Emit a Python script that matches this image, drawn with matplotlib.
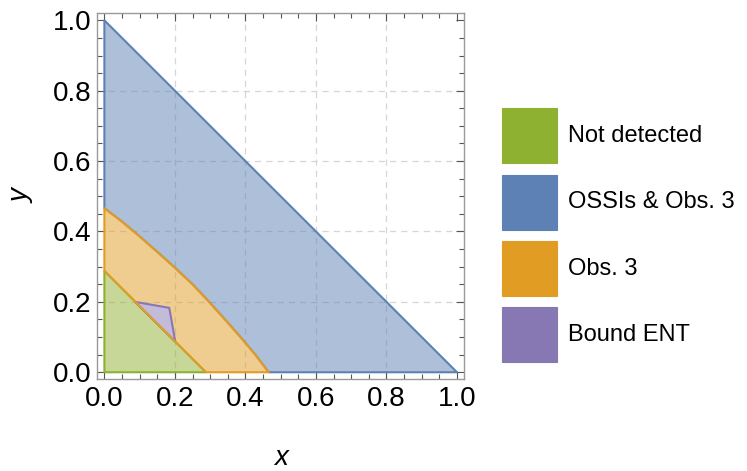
import matplotlib
matplotlib.use("Agg")
import matplotlib.pyplot as plt
from matplotlib.patches import Polygon, Patch, Rectangle
from matplotlib.legend_handler import HandlerPatch
from matplotlib.ticker import MultipleLocator, FormatStrFormatter
from matplotlib.colors import to_rgb

plt.rcParams['font.family'] = ['Liberation Sans', 'DejaVu Sans']

# ---- data ----
labels = ["Not detected", "OSSIs & Obs. 3", "Obs. 3", "Bound ENT"]
colors = ["#8FB131", "#5E81B5", "#E19C24", "#8778B3"]

# outer boundary of the whole region: x + y <= 1
outer_x = [0.0, 1.0]
outer_y = [1.0, 0.0]
# curved boundary between "OSSIs & Obs. 3" and "Obs. 3"
curve_x = [0.0, 0.05, 0.10, 0.15, 0.20, 0.25, 0.297, 0.342, 0.386, 0.428, 0.466]
curve_y = [0.466, 0.428, 0.386, 0.342, 0.297, 0.25, 0.20, 0.15, 0.10, 0.05, 0.0]
# straight boundary of "Not detected": x + y <= 0.288
inner_x = [0.0, 0.288]
inner_y = [0.288, 0.0]
# "Bound ENT" triangle
bound_x = [0.087, 0.184, 0.201]
bound_y = [0.200, 0.183, 0.087]

grid_ticks = [0.2, 0.4, 0.6, 0.8]

fig = plt.figure(figsize=(7.47, 4.71), dpi=100)
ax = fig.add_axes([0.1303, 0.1947, 0.4909, 0.7771])

lw = 1.5


def light(c, a=0.5):
    r, g, b = to_rgb(c)
    return (1 - a + a * r, 1 - a + a * g, 1 - a + a * b)


def region(pts, color, zfill, zedge, opaque=False):
    if opaque:
        ax.add_patch(Polygon(pts, closed=True, facecolor=light(color, 0.5),
                             edgecolor='none', zorder=zfill))
    else:
        ax.add_patch(Polygon(pts, closed=True, facecolor=color, alpha=0.5,
                             edgecolor='none', zorder=zfill))
    ax.add_patch(Polygon(pts, closed=True, fill=False, edgecolor=color,
                         lw=lw, joinstyle='round', zorder=zedge))


blue_pts = list(zip(outer_x, outer_y)) + list(zip(curve_x[::-1], curve_y[::-1]))
green_pts = [(0.0, 0.0), (inner_x[1], inner_y[1]), (inner_x[0], inner_y[0])]
orange_pts = list(zip(curve_x, curve_y)) + list(zip(inner_x[::-1], inner_y[::-1]))
purple_pts = list(zip(bound_x, bound_y))

region(blue_pts, colors[1], 2.0, 2.5)
region(green_pts, colors[0], 2.0, 2.5)
region(orange_pts, colors[2], 3.0, 4.0)
region(purple_pts, colors[3], 3.2, 3.5, opaque=True)   # orange edge stays on top

ax.set_xlim(-0.02, 1.02)
ax.set_ylim(-0.02, 1.02)

ax.xaxis.set_major_locator(MultipleLocator(0.2))
ax.yaxis.set_major_locator(MultipleLocator(0.2))
ax.xaxis.set_minor_locator(MultipleLocator(0.05))
ax.yaxis.set_minor_locator(MultipleLocator(0.05))
ax.xaxis.set_major_formatter(FormatStrFormatter('%.1f'))
ax.yaxis.set_major_formatter(FormatStrFormatter('%.1f'))

ax.tick_params(which='both', direction='in', top=True, right=True,
               color='#555555', width=0.8)
ax.tick_params(which='major', length=6, labelsize=20, pad=4.5)
ax.tick_params(which='minor', length=3.5)
for s in ax.spines.values():
    s.set_color('#999999')
    s.set_linewidth(1.0)

for g in grid_ticks:
    ax.axvline(g, linestyle=(0, (5, 4)), color='#d6d6d6', lw=0.9, zorder=1)
    ax.axhline(g, linestyle=(0, (5, 4)), color='#d6d6d6', lw=0.9, zorder=1)

ax.set_xlabel('x', fontsize=20, style='italic', labelpad=24)
ax.set_ylabel('y', fontsize=20, style='italic', labelpad=13)

# ---- legend ----
FS = 17.0          # legend font size (pt)
SW = 2.33          # swatch side, in font sizes
HH = 2.81          # handle height, in font sizes
YC = 0.26          # swatch centre above text baseline, in font sizes
PITCH_PT = 66.3 * 72 / 100   # row pitch (pt)


def swatch(legend, orig_handle, xdescent, ydescent, width, height, fontsize):
    side = SW * fontsize
    yc = YC * fontsize
    return Rectangle((-xdescent, yc - side / 2), side, side)


descent = 0.35 * FS * (HH - 0.7)
box_h = FS * HH - descent
box_top = box_h - descent
label_sp = (PITCH_PT - box_h) / FS
sw_top = YC * FS + SW * FS / 2
top_px = 108.3 + (sw_top - box_top) * 100 / 72

handles = [Patch(facecolor=c, edgecolor=c, lw=0.8) for c in colors]
fig.legend(handles, labels, loc='upper left',
           bbox_to_anchor=(501.7 / 747, 1 - top_px / 471),
           frameon=False, fontsize=FS, handlelength=SW, handleheight=HH,
           labelspacing=label_sp, handletextpad=0.49, borderpad=0,
           borderaxespad=0,
           handler_map={Patch: HandlerPatch(patch_func=swatch)})

fig.savefig('out.png', dpi=100)
